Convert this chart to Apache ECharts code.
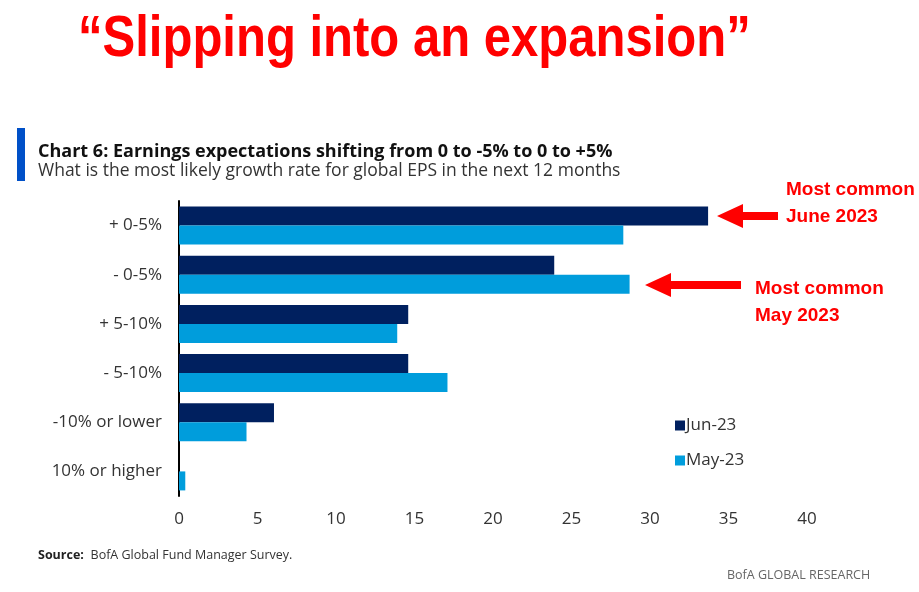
<!DOCTYPE html>
<html><head><meta charset="utf-8">
<script src="https://cdn.jsdelivr.net/npm/echarts@6/dist/echarts.min.js"></script>
<style>html,body{margin:0;padding:0;background:#fff}#c{width:919px;height:592px}</style>
</head><body><div id="c"></div>
<script>
const categories = ['+ 0-5%', '- 0-5%', '+ 5-10%', '- 5-10%', '-10% or lower', '10% or higher'];
const seriesNames = ['Jun-23', 'May-23'];
const jun23 = [33.7, 23.9, 14.6, 14.6, 6.05, 0];
const may23 = [28.3, 28.7, 13.9, 17.1, 4.3, 0.4];
const xTicks = [0, 5, 10, 15, 20, 25, 30, 35, 40];

const NAVY = '#00205f', CYAN = '#009ddc', RED = '#ff0000';
const F = '"Open Sans", "Noto Sans", sans-serif';

function arrow(x1, x2, y) {
  const head = 26, hh = 12, sh = 4;
  return {
    type: 'polygon',
    shape: { points: [[x1, y], [x1 + head, y - hh], [x1 + head, y - sh], [x2, y - sh], [x2, y + sh], [x1 + head, y + sh], [x1 + head, y + hh]] },
    style: { fill: RED }
  };
}

const chart = echarts.init(document.getElementById('c'));
chart.setOption({
  animation: false,
  grid: { left: 179, right: 112, top: 201, bottom: 96, containLabel: false },
  xAxis: {
    type: 'value', min: xTicks[0], max: xTicks[xTicks.length - 1], interval: xTicks[1] - xTicks[0],
    axisLine: { show: false }, axisTick: { show: false }, splitLine: { show: false },
    axisLabel: { color: '#333', fontSize: 17, fontFamily: F, margin: 15 }
  },
  yAxis: {
    type: 'category', data: categories, inverse: true,
    axisLine: { show: true, lineStyle: { color: '#000', width: 2 } },
    axisTick: { show: false },
    axisLabel: { color: '#333', fontSize: 17, fontFamily: F, margin: 17 }
  },
  legend: {
    orient: 'vertical', left: 670, top: 412, itemGap: 18,
    itemWidth: 10, itemHeight: 10, icon: 'rect',
    textStyle: { color: '#333', fontSize: 17, fontFamily: F, padding: [0, 0, 0, -4] },
    data: seriesNames
  },
  series: [
    { name: seriesNames[0], type: 'bar', data: jun23, barWidth: 19, barGap: '0%', itemStyle: { color: NAVY } },
    { name: seriesNames[1], type: 'bar', data: may23, barWidth: 19, barGap: '0%', itemStyle: { color: CYAN } }
  ],
  graphic: [
    { type: 'text', x: 78, y: 12, style: { text: '\u201CSlipping into an expansion\u201D', font: 'bold 57px "Liberation Sans", Arial, sans-serif', fill: RED }, scaleX: 0.86 },
    { type: 'rect', shape: { x: 17, y: 128, width: 8, height: 53 }, style: { fill: '#0050c8' } },
    { type: 'text', left: 38, top: 143, style: { text: 'Chart 6: Earnings expectations shifting from 0 to -5% to 0 to +5%', font: 'bold 18px ' + F, fill: '#111' } },
    { type: 'text', left: 38, top: 162, style: { text: 'What is the most likely growth rate for global EPS in the next 12 months', font: '17.5px ' + F, fill: '#333' } },
    { type: 'text', left: 786, top: 176, style: { text: 'Most common\nJune 2023', font: 'bold 19px "Liberation Sans", Arial, sans-serif', fill: RED, lineHeight: 27 } },
    { type: 'text', left: 755, top: 275, style: { text: 'Most common\nMay 2023', font: 'bold 19px "Liberation Sans", Arial, sans-serif', fill: RED, lineHeight: 27 } },
    arrow(717, 778, 216),
    arrow(645, 741, 285),
    { type: 'text', left: 38, top: 549, style: { rich: { b: { font: 'bold 12.5px ' + F, fill: '#222' }, n: { font: '12.5px ' + F, fill: '#333' } }, text: '{b|Source:}  {n|BofA Global Fund Manager Survey.}' } },
    { type: 'text', left: 727, top: 569, style: { text: 'BofA GLOBAL RESEARCH', font: '12.5px ' + F, fill: '#666' } }
  ]
});
</script></body></html>
